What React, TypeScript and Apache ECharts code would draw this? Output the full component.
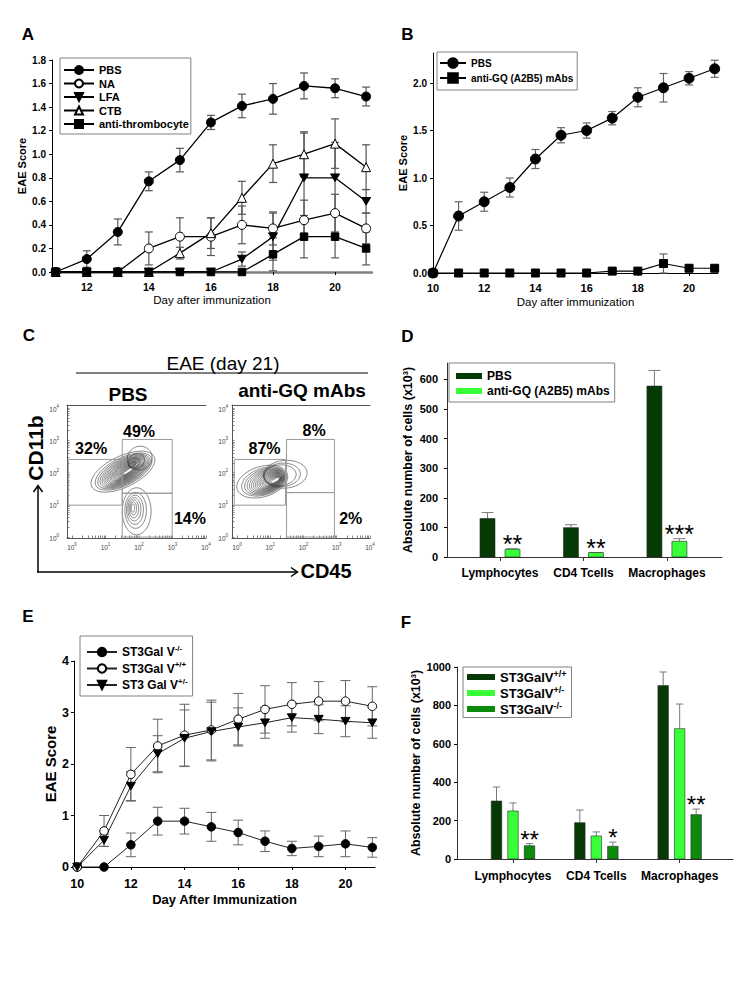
import React, { useEffect, useRef } from 'react';
import * as echarts from 'echarts';

const FONT = '"Liberation Sans", Arial, Helvetica, sans-serif';

// ---------- Panel A ----------
const daysA = [11, 12, 13, 14, 15, 16, 17, 18, 19, 20, 21];
const aPBS = [0, 0.11, 0.34, 0.77, 0.95, 1.27, 1.41, 1.47, 1.58, 1.56, 1.49];
const aPBSErr = [0, 0.07, 0.11, 0.08, 0.1, 0.06, 0.1, 0.13, 0.11, 0.08, 0.08];
const aNA = [0, 0, 0, 0.2, 0.3, 0.3, 0.4, 0.37, 0.44, 0.5, 0.37];
const aNAErr = [0, 0, 0, 0.14, 0.16, 0.16, 0.16, 0.14, 0.17, 0.16, 0.13];
const aLFA = [0, 0, 0, 0, 0, 0, 0.11, 0.3, 0.8, 0.8, 0.6];
const aLFAErr = [0, 0, 0, 0, 0, 0, 0.06, 0.2, 0.38, 0.3, 0.1];
const aCTB = [0, 0, 0, 0, 0.16, 0.33, 0.63, 0.92, 1.0, 1.09, 0.89];
const aCTBErr = [0, 0, 0, 0, 0.05, 0.13, 0.14, 0.16, 0.19, 0.21, 0.19];
const aThr = [0, 0, 0, 0, 0, 0, 0, 0.15, 0.3, 0.3, 0.2];
const aThrErr = [0, 0, 0, 0, 0, 0, 0, 0.14, 0.18, 0.18, 0.14];
const aXLabels = [12, 14, 16, 18, 20];
const aYLabels = [0, 0.2, 0.4, 0.6, 0.8, 1.0, 1.2, 1.4, 1.6, 1.8];

// ---------- Panel B ----------
const daysB = [10, 11, 12, 13, 14, 15, 16, 17, 18, 19, 20, 21];
const bPBS = [0, 0.6, 0.75, 0.9, 1.2, 1.45, 1.5, 1.63, 1.85, 1.95, 2.05, 2.15];
const bPBSErr = [0, 0.15, 0.1, 0.1, 0.1, 0.08, 0.08, 0.07, 0.1, 0.15, 0.07, 0.09];
const bGQ = [0, 0, 0, 0, 0, 0, 0, 0.02, 0.02, 0.1, 0.05, 0.05];
const bGQErr = [0, 0, 0, 0, 0, 0, 0, 0, 0, 0.1, 0, 0];
const bXLabels = [10, 12, 14, 16, 18, 20];
const bYLabels = [0, 0.5, 1.0, 1.5, 2.0];

// ---------- Panel C (flow cytometry, log10 units) ----------
const flowDecades = [0, 1, 2, 3, 4];
// populations: [outer cx, cy, rx, ry, angle, core cx, cy, rx, ry, angle, levels]
const popsPBS = [
  [1.52, 2.03, 1.04, 0.48, 27, 1.68, 2.05, 0.2, 0.04, 35, 20],
  [2.02, 2.45, 0.38, 0.36, 45, 1.8, 2.25, 0.12, 0.06, 35, 4],
  [1.93, 0.8, 0.43, 0.73, 0, 1.82, 0.9, 0.05, 0.13, 0, 7],
];
const popsGQ = [
  [0.76, 1.72, 0.79, 0.47, 18, 1.15, 1.76, 0.15, 0.05, 30, 18],
  [1.45, 1.95, 0.66, 0.43, 5, 1.3, 1.92, 0.48, 0.32, 5, 3],
];
// gates: [x0, y0, x1, y1, labelX, labelY]
const gatesPBS = [
  [-0.11, 0.99, 1.5, 2.41, 0.57, 2.76],
  [1.5, 1.36, 2.99, 3.03, 2.0, 3.29],
  [1.5, 0, 2.99, 1.36, 3.52, 0.57],
];
const pctPBS = ['32%', '49%', '14%'];
const gatesGQ = [
  [-0.08, 0.99, 1.46, 2.41, 0.83, 2.76],
  [1.49, 1.38, 2.93, 3.03, 2.32, 3.32],
  [1.49, 0, 2.93, 1.38, 3.42, 0.57],
];
const pctGQ = ['87%', '8%', '2%'];

// ---------- Panel D ----------
const catsD = ['Lymphocytes', 'CD4 Tcells', 'Macrophages'];
const dPBS = [130, 99, 577];
const dPBSErr = [20, 10, 53];
const dGQ = [26, 15, 53];
const dGQErr = [2, 0, 9];
const dStars = ['**', '**', '***'];
const dYLabels = [0, 100, 200, 300, 400, 500, 600];

// ---------- Panel E ----------
const daysE = [10, 11, 12, 13, 14, 15, 16, 17, 18, 19, 20, 21];
const eKO = [0, 0, 0.43, 0.89, 0.89, 0.78, 0.67, 0.5, 0.36, 0.4, 0.45, 0.38];
const eKOErr = [0, 0, 0.23, 0.27, 0.25, 0.28, 0.24, 0.2, 0.14, 0.2, 0.25, 0.19];
const eWT = [0, 0.7, 1.8, 2.35, 2.56, 2.66, 2.87, 3.06, 3.16, 3.22, 3.22, 3.12];
const eWTErr = [0, 0.3, 0.52, 0.52, 0.6, 0.58, 0.5, 0.46, 0.42, 0.38, 0.4, 0.38];
const eHet = [0, 0.52, 1.57, 2.2, 2.5, 2.63, 2.72, 2.8, 2.9, 2.87, 2.83, 2.8];
const eHetErr = [0, 0.12, 0.28, 0.35, 0.55, 0.57, 0.37, 0.3, 0.28, 0.28, 0.3, 0.3];
const eXLabels = [10, 12, 14, 16, 18, 20];
const eYLabels = [0, 1, 2, 3, 4];

// ---------- Panel F ----------
const catsF = ['Lymphocytes', 'CD4 Tcells', 'Macrophages'];
const fWT = [302, 189, 903];
const fWTErr = [73, 66, 71];
const fHet = [250, 120, 679];
const fHetErr = [42, 21, 128];
const fKO = [69, 66, 231];
const fKOErr = [11, 22, 29];
const fStars = ['**', '*', '**'];
const fYLabels = [0, 200, 400, 600, 800, 1000];

const DARK = '#053a05';
const LIGHT = '#38ff38';
const MID = '#0b8a0b';

const flowTicks: number[] = [];
for (let k = 0; k < 4; k++) for (let m = 1; m < 10; m++) flowTicks.push(k + Math.log10(m));
flowTicks.push(4);

const lbl = (size: number, extra: any = {}) => ({
  fontSize: size, fontWeight: 'bold', color: '#000', fontFamily: FONT, ...extra,
});
const plain = (v: number) => String(v);

function valX(gi: number, min: number, max: number, labels: number[], size: number, margin: number, extra: any = {}) {
  return {
    type: 'value', gridIndex: gi, min, max,
    axisLine: { show: true, onZero: false, lineStyle: { color: '#000', width: 1 } },
    axisTick: { show: true, customValues: labels, length: 3, lineStyle: { color: '#000' } },
    axisLabel: { customValues: labels, margin, formatter: plain, ...lbl(size) },
    splitLine: { show: false },
    ...extra,
  };
}
function valY(gi: number, min: number, max: number, labels: number[], size: number, margin: number, extra: any = {}) {
  return {
    type: 'value', gridIndex: gi, min, max,
    axisLine: { show: true, onZero: false, lineStyle: { color: '#000', width: 1 } },
    axisTick: { show: true, customValues: labels, length: 3, lineStyle: { color: '#000' } },
    axisLabel: { customValues: labels, margin, formatter: plain, ...lbl(size) },
    splitLine: { show: false },
    ...extra,
  };
}

function lineS(name: string, ai: number, xs: number[], ys: number[], symbol: string, size: number, filled: boolean, width: number, color = '#000') {
  return {
    type: 'line', name, xAxisIndex: ai, yAxisIndex: ai,
    data: xs.map((x, i) => [x, ys[i]]),
    symbol, symbolSize: size, symbolKeepAspect: true, showSymbol: true,
    lineStyle: { color, width },
    itemStyle: { color: filled ? '#000' : '#fff', borderColor: '#000', borderWidth: 1 },
    emphasis: { disabled: true }, silent: true, z: 3,
  };
}

function errS(ai: number, xs: number[], ys: number[], es: number[], cap: number, color: string, width: number) {
  return {
    type: 'custom', xAxisIndex: ai, yAxisIndex: ai, z: 2, silent: true,
    data: xs.map((x, i) => [x, ys[i], es[i]]),
    renderItem: (_p: any, api: any) => {
      const x = api.value(0), y = api.value(1), e = api.value(2);
      if (!e) return { type: 'group', children: [] };
      const t = api.coord([x, y + e]);
      const b = api.coord([x, y - e]);
      const st = { stroke: color, lineWidth: width };
      return {
        type: 'group', children: [
          { type: 'line', shape: { x1: t[0], y1: t[1], x2: b[0], y2: b[1] }, style: st },
          { type: 'line', shape: { x1: t[0] - cap, y1: t[1], x2: t[0] + cap, y2: t[1] }, style: st },
          { type: 'line', shape: { x1: b[0] - cap, y1: b[1], x2: b[0] + cap, y2: b[1] }, style: st },
        ],
      };
    },
  };
}

function barS(name: string, ai: number, vals: number[], errs: number[], offset: number, width: number, color: string, cap: number, stars: string[] | null, starSize: number) {
  return {
    type: 'custom', name, xAxisIndex: ai, yAxisIndex: ai, z: 2, silent: true,
    itemStyle: { color },
    data: vals.map((v, i) => [i + 1, v]),
    renderItem: (params: any, api: any) => {
      const i = params.dataIndex;
      const cx = api.value(0), v = api.value(1);
      const top = api.coord([cx, v]);
      const base = api.coord([cx, 0]);
      const et = api.coord([cx, v + errs[i]]);
      const x = top[0] + offset;
      const st = { stroke: '#7a7a7a', lineWidth: 1 };
      const children: any[] = [
        { type: 'line', shape: { x1: x, y1: top[1], x2: x, y2: et[1] }, style: st },
        { type: 'line', shape: { x1: x - cap, y1: et[1], x2: x + cap, y2: et[1] }, style: st },
        { type: 'rect', shape: { x: x - width / 2, y: top[1], width, height: base[1] - top[1] }, style: { fill: color, stroke: '#2a2a2a', lineWidth: 0.6 } },
      ];
      if (stars) {
        children.push({
          type: 'text', x, y: et[1] - 4.5,
          style: { text: stars[i], fill: '#000', fontSize: starSize, fontFamily: FONT, textAlign: 'center', textVerticalAlign: 'middle', align: 'center', verticalAlign: 'middle' },
        });
      }
      return { type: 'group', children };
    },
  };
}

function contourS(ai: number, pops: number[][]) {
  return {
    type: 'custom', xAxisIndex: ai, yAxisIndex: ai, z: 2, silent: true,
    data: pops,
    renderItem: (_p: any, api: any) => {
      const p: number[] = [];
      for (let k = 0; k < 11; k++) p.push(api.value(k));
      const n = p[10];
      const children: any[] = [];
      for (let i = 0; i < n; i++) {
        const t = n > 1 ? Math.pow(i / (n - 1), 0.7) : 0;
        const cx = p[0] + (p[5] - p[0]) * t;
        const cy = p[1] + (p[6] - p[1]) * t;
        const rx = p[2] + (p[7] - p[2]) * t;
        const ry = p[3] + (p[8] - p[3]) * t;
        const ang = (p[4] + (p[9] - p[4]) * t) * Math.PI / 180;
        const pts: number[][] = [];
        for (let j = 0; j < 60; j++) {
          const phi = (j / 60) * Math.PI * 2;
          const ex = rx * Math.cos(phi), ey = ry * Math.sin(phi);
          pts.push(api.coord([cx + ex * Math.cos(ang) - ey * Math.sin(ang), cy + ex * Math.sin(ang) + ey * Math.cos(ang)]));
        }
        children.push({ type: 'polygon', shape: { points: pts }, style: { fill: 'none', stroke: '#3a3a3a', lineWidth: 0.6 } });
      }
      return { type: 'group', children };
    },
  };
}

function gateS(ai: number, gates: number[][], pcts: string[]) {
  return {
    type: 'custom', xAxisIndex: ai, yAxisIndex: ai, z: 3, silent: true,
    data: gates,
    renderItem: (params: any, api: any) => {
      const a = api.coord([api.value(0), api.value(3)]);
      const b = api.coord([api.value(2), api.value(1)]);
      const l = api.coord([api.value(4), api.value(5)]);
      return {
        type: 'group', children: [
          { type: 'rect', shape: { x: a[0], y: a[1], width: b[0] - a[0], height: b[1] - a[1] }, style: { fill: 'none', stroke: '#9a9a9a', lineWidth: 1 } },
          {
            type: 'text', x: l[0], y: l[1],
            style: { text: pcts[params.dataIndex], fill: '#000', fontSize: 16, fontWeight: 'bold', fontFamily: FONT, textAlign: 'center', textVerticalAlign: 'middle', align: 'center', verticalAlign: 'middle' },
          },
        ],
      };
    },
  };
}

const flowRich = {
  a: { fontSize: 6.5, color: '#444', fontFamily: FONT, lineHeight: 9, verticalAlign: 'bottom' },
  b: { fontSize: 4.5, color: '#444', fontFamily: FONT, lineHeight: 5, verticalAlign: 'top' },
};
const flowFmt = (v: number) => `{a|10}{b|${v}}`;

function flowX(gi: number) {
  return {
    type: 'value', gridIndex: gi, min: -0.15, max: 4,
    axisLine: { show: true, onZero: false, lineStyle: { color: '#555', width: 1 } },
    axisTick: { show: true, inside: true, length: 2.5, customValues: flowTicks, lineStyle: { color: '#555', width: 0.7 } },
    axisLabel: { customValues: flowDecades, margin: 4, formatter: flowFmt, rich: flowRich },
    splitLine: { show: false },
  };
}
function flowTop(gi: number) {
  return {
    type: 'value', gridIndex: gi, position: 'top', min: -0.15, max: 4,
    axisLine: { show: true, onZero: false, lineStyle: { color: '#555', width: 1 } },
    axisTick: { show: false }, axisLabel: { show: false }, splitLine: { show: false },
  };
}
function flowY(gi: number, margin: number) {
  return {
    type: 'value', gridIndex: gi, min: -0.03, max: 4.1,
    axisLine: { show: true, onZero: false, lineStyle: { color: '#555', width: 1 } },
    axisTick: { show: true, inside: true, length: 2.5, customValues: flowTicks, lineStyle: { color: '#555', width: 0.7 } },
    axisLabel: { customValues: flowDecades, margin, formatter: flowFmt, rich: flowRich },
    splitLine: { show: false },
  };
}

const gtext = (text: string, x: number, y: number, size: number, weight = 'bold', rotation = 0) => ({
  type: 'text', x, y, rotation, silent: true,
  style: { text, fill: '#000', fontSize: size, fontWeight: weight, fontFamily: FONT, textAlign: 'center', textVerticalAlign: 'middle', align: 'center', verticalAlign: 'middle' },
});
const gline = (x1: number, y1: number, x2: number, y2: number, w = 1) => ({
  type: 'line', silent: true, shape: { x1, y1, x2, y2 }, style: { stroke: '#000', lineWidth: w },
});

const DOWN_TRI = 'path://M0,0L20,0L10,17Z';
const strip = (n: string) => n.slice(2);
const supFmt = (n: string) => {
  const [a, b] = n.slice(2).split('|');
  return `{n|${a}}{s|${b}}`;
};

function buildOption(): any {
  const grid = [
    { left: 52, top: 60, width: 320, height: 212 },
    { left: 433, top: 53, width: 285, height: 220 },
    { left: 67, top: 405, width: 139, height: 133 },
    { left: 232, top: 405, width: 138, height: 133 },
    { left: 447, top: 363, width: 275, height: 194 },
    { left: 74, top: 661, width: 301, height: 206 },
    { left: 457, top: 667, width: 276, height: 192 },
  ];

  const xAxis = [
    valX(0, 10.88, 21.19, aXLabels, 10.5, 9, {
      axisLine: { show: true, onZero: false, lineStyle: { color: '#808080', width: 2.5 } },
      name: 'Day after immunization', nameLocation: 'middle', nameGap: 22,
      nameTextStyle: { fontSize: 11.5, color: '#000', fontFamily: FONT },
    }),
    valX(1, 10, 21.13, bXLabels, 11, 9, {
      name: 'Day after immunization', nameLocation: 'middle', nameGap: 23,
      nameTextStyle: { fontSize: 11.5, color: '#000', fontFamily: FONT },
    }),
    flowX(2),
    flowX(3),
    valX(4, 0.365, 3.66, [1, 2, 3], 12, 9.5, {
      axisTick: { show: true, customValues: [1, 2, 3], length: 4, lineStyle: { color: '#333' } },
      axisLine: { show: true, onZero: false, lineStyle: { color: '#333', width: 1 } },
      axisLabel: { customValues: [1, 2, 3], margin: 9.5, ...lbl(12), formatter: (v: number) => catsD[Math.round(v) - 1] },
    }),
    valX(5, 9.88, 21.1, eXLabels, 12.5, 10, {
      name: 'Day After Immunization', nameLocation: 'middle', nameGap: 26,
      nameTextStyle: { fontSize: 13, fontWeight: 'bold', color: '#000', fontFamily: FONT },
    }),
    valX(6, 0.328, 3.64, [1, 2, 3], 12, 11, {
      axisTick: { show: true, customValues: [1, 2, 3], length: 4, lineStyle: { color: '#333' } },
      axisLine: { show: true, onZero: false, lineStyle: { color: '#333', width: 1 } },
      axisLabel: { customValues: [1, 2, 3], margin: 11, ...lbl(12), formatter: (v: number) => catsF[Math.round(v) - 1] },
    }),
    flowTop(2),
    flowTop(3),
  ];

  const yAxis = [
    valY(0, 0, 1.8, aYLabels, 10, 6, {
      axisLabel: { customValues: aYLabels, margin: 6, ...lbl(10), formatter: (v: number) => v.toFixed(1) },
      name: 'EAE Score', nameLocation: 'middle', nameGap: 25,
      nameTextStyle: { fontSize: 11, fontWeight: 'bold', color: '#000', fontFamily: FONT },
    }),
    valY(1, 0, 2.316, bYLabels, 10, 6, {
      axisLabel: { customValues: bYLabels, margin: 6, ...lbl(10), formatter: (v: number) => v.toFixed(1) },
      name: 'EAE Score', nameLocation: 'middle', nameGap: 25,
      nameTextStyle: { fontSize: 11, fontWeight: 'bold', color: '#000', fontFamily: FONT },
    }),
    flowY(2, 8),
    flowY(3, 4),
    valY(4, 0, 655, dYLabels, 11, 9, {
      axisLine: { show: true, onZero: false, lineStyle: { color: '#333', width: 1 } },
      name: 'Absolute number of cells (x10³)', nameLocation: 'middle', nameGap: 33,
      nameTextStyle: { fontSize: 12.5, fontWeight: 'bold', color: '#000', fontFamily: FONT },
    }),
    valY(5, 0, 4, eYLabels, 12.5, 5, {
      name: 'EAE Score', nameLocation: 'middle', nameGap: 14,
      nameTextStyle: { fontSize: 15, fontWeight: 'bold', color: '#000', fontFamily: FONT },
    }),
    valY(6, 0, 1000, fYLabels, 11, 6, {
      axisLine: { show: true, onZero: false, lineStyle: { color: '#333', width: 1 } },
      name: 'Absolute number of cells (x10³)', nameLocation: 'middle', nameGap: 30,
      nameTextStyle: { fontSize: 12.5, fontWeight: 'bold', color: '#000', fontFamily: FONT },
    }),
  ];

  const series: any[] = [
    // A
    errS(0, daysA, aPBS, aPBSErr, 4, '#555', 1.2),
    errS(0, daysA, aNA, aNAErr, 4, '#555', 1.2),
    errS(0, daysA, aLFA, aLFAErr, 4, '#555', 1.2),
    errS(0, daysA, aCTB, aCTBErr, 4, '#555', 1.2),
    errS(0, daysA, aThr, aThrErr, 4, '#555', 1.2),
    lineS('A:PBS', 0, daysA, aPBS, 'circle', 9, true, 1.3),
    lineS('A:NA', 0, daysA, aNA, 'circle', 9, false, 1.3),
    lineS('A:LFA', 0, daysA, aLFA, DOWN_TRI, 9, true, 1.3),
    lineS('A:CTB', 0, daysA, aCTB, 'triangle', 9, false, 1.3),
    lineS('A:anti-thrombocyte', 0, daysA, aThr, 'rect', 7.5, true, 1.3),
    // B
    errS(1, daysB, bPBS, bPBSErr, 4, '#666', 1.2),
    errS(1, daysB, bGQ, bGQErr, 4, '#666', 1.2),
    lineS('B:PBS', 1, daysB, bPBS, 'circle', 10, true, 1.2),
    lineS('B:anti-GQ (A2B5) mAbs', 1, daysB, bGQ, 'rect', 8, true, 1.2),
    // C
    contourS(2, popsPBS),
    gateS(2, gatesPBS, pctPBS),
    contourS(3, popsGQ),
    gateS(3, gatesGQ, pctGQ),
    // D
    barS('D:PBS', 4, dPBS, dPBSErr, -12.5, 15, DARK, 6, null, 25),
    barS('D:anti-GQ (A2B5) mAbs', 4, dGQ, dGQErr, 12.5, 15, LIGHT, 6, dStars, 25),
    // E
    errS(5, daysE, eKO, eKOErr, 5, '#666', 1),
    errS(5, daysE, eWT, eWTErr, 5, '#666', 1),
    errS(5, daysE, eHet, eHetErr, 5, '#666', 1),
    lineS('E:ST3Gal V|-/-', 5, daysE, eKO, 'circle', 8.5, true, 1, '#222'),
    lineS('E:ST3Gal V|+/+', 5, daysE, eWT, 'circle', 8.5, false, 1, '#222'),
    lineS('E:ST3 Gal V|+/-', 5, daysE, eHet, DOWN_TRI, 9, true, 1, '#222'),
    // F
    barS('F:ST3GalV|+/+', 6, fWT, fWTErr, -16.5, 10.5, DARK, 3.7, null, 24),
    barS('F:ST3GalV|+/-', 6, fHet, fHetErr, 0, 10.5, LIGHT, 3.7, null, 24),
    barS('F:ST3GalV|-/-', 6, fKO, fKOErr, 16.5, 10.5, MID, 3.7, fStars, 24),
  ];

  const legendBase = {
    orient: 'vertical', selectedMode: false, borderColor: '#808080', borderWidth: 1,
    backgroundColor: '#fff',
  };

  const legend = [
    {
      ...legendBase, data: ['A:PBS', 'A:NA', 'A:LFA', 'A:CTB', 'A:anti-thrombocyte'],
      left: 60, top: 58, padding: [6, 2, 4, 3], itemGap: 1.5, itemWidth: 30, itemHeight: 10,
      formatter: strip,
      textStyle: { fontSize: 11, fontWeight: 'bold', color: '#000', fontFamily: FONT, lineHeight: 12 },
    },
    {
      ...legendBase, data: ['B:PBS', 'B:anti-GQ (A2B5) mAbs'],
      left: 437, top: 52, padding: [5, 4, 6, 2], itemGap: 3, itemWidth: 26, itemHeight: 12,
      formatter: strip,
      textStyle: { fontSize: 10, fontWeight: 'bold', color: '#000', fontFamily: FONT, lineHeight: 12 },
    },
    {
      ...legendBase, data: ['D:PBS', 'D:anti-GQ (A2B5) mAbs'], icon: 'rect',
      left: 449, top: 363, padding: [6.5, 5, 4.5, 7], itemGap: 2, itemWidth: 26, itemHeight: 6,
      formatter: strip,
      textStyle: { fontSize: 12, fontWeight: 'bold', color: '#000', fontFamily: FONT, lineHeight: 13 },
    },
    {
      ...legendBase, data: ['E:ST3Gal V|-/-', 'E:ST3Gal V|+/+', 'E:ST3 Gal V|+/-'],
      left: 80, top: 636, padding: [8, 5, 5, 6], itemGap: 2.5, itemWidth: 30, itemHeight: 10.5,
      formatter: supFmt,
      textStyle: {
        color: '#000', fontFamily: FONT,
        rich: {
          n: { fontSize: 12, fontWeight: 'bold', color: '#000', fontFamily: FONT, lineHeight: 16 },
          s: { fontSize: 8, fontWeight: 'bold', color: '#000', fontFamily: FONT, lineHeight: 9, verticalAlign: 'top' },
        },
      },
    },
    {
      ...legendBase, data: ['F:ST3GalV|+/+', 'F:ST3GalV|+/-', 'F:ST3GalV|-/-'], icon: 'rect',
      left: 463, top: 667, padding: [2.5, 5, 2, 4], itemGap: 2, itemWidth: 28, itemHeight: 6,
      formatter: supFmt,
      textStyle: {
        color: '#000', fontFamily: FONT,
        rich: {
          n: { fontSize: 13, fontWeight: 'bold', color: '#000', fontFamily: FONT, lineHeight: 15 },
          s: { fontSize: 9, fontWeight: 'bold', color: '#000', fontFamily: FONT, lineHeight: 9, verticalAlign: 'top' },
        },
      },
    },
  ];

  const graphic = [
    gtext('A', 28, 34.5, 17),
    gtext('B', 407.5, 34.5, 17),
    gtext('C', 29, 335, 17),
    gtext('D', 407.5, 336, 17),
    gtext('E', 28, 616.5, 17),
    gtext('F', 406, 622, 17),
    gtext('EAE (day 21)', 223, 363, 19, 'normal'),
    gline(76, 373, 368, 373, 1),
    gtext('PBS', 128, 394, 19),
    gtext('anti-GQ mAbs', 302, 390, 19),
    gtext('CD11b', 35, 448, 21, 'bold', Math.PI / 2),
    gtext('CD45', 326, 571, 20),
    gline(38, 572.75, 38, 486, 1.5),
    gline(37.25, 572, 297, 572, 1.5),
    { type: 'polyline', silent: true, shape: { points: [[33.5, 492], [38, 485.5], [42.5, 492]] }, style: { stroke: '#000', lineWidth: 1.5, fill: 'none' } },
    { type: 'polyline', silent: true, shape: { points: [[291, 567.5], [297.5, 572], [291, 576.5]] }, style: { stroke: '#000', lineWidth: 1.5, fill: 'none' } },
  ];

  return {
    animation: false,
    backgroundColor: '#fff',
    textStyle: { fontFamily: FONT },
    grid, xAxis, yAxis, series, legend, graphic,
  };
}

const App = () => {
  const ref = useRef<HTMLDivElement>(null);
  useEffect(() => {
    document.body.style.margin = '0';
    const chart = echarts.init(ref.current as HTMLDivElement, null, { renderer: 'svg' });
    chart.setOption(buildOption());
    return () => chart.dispose();
  }, []);
  return <div ref={ref} style={{ width: 750, height: 1000 }} />;
};

export default App;
